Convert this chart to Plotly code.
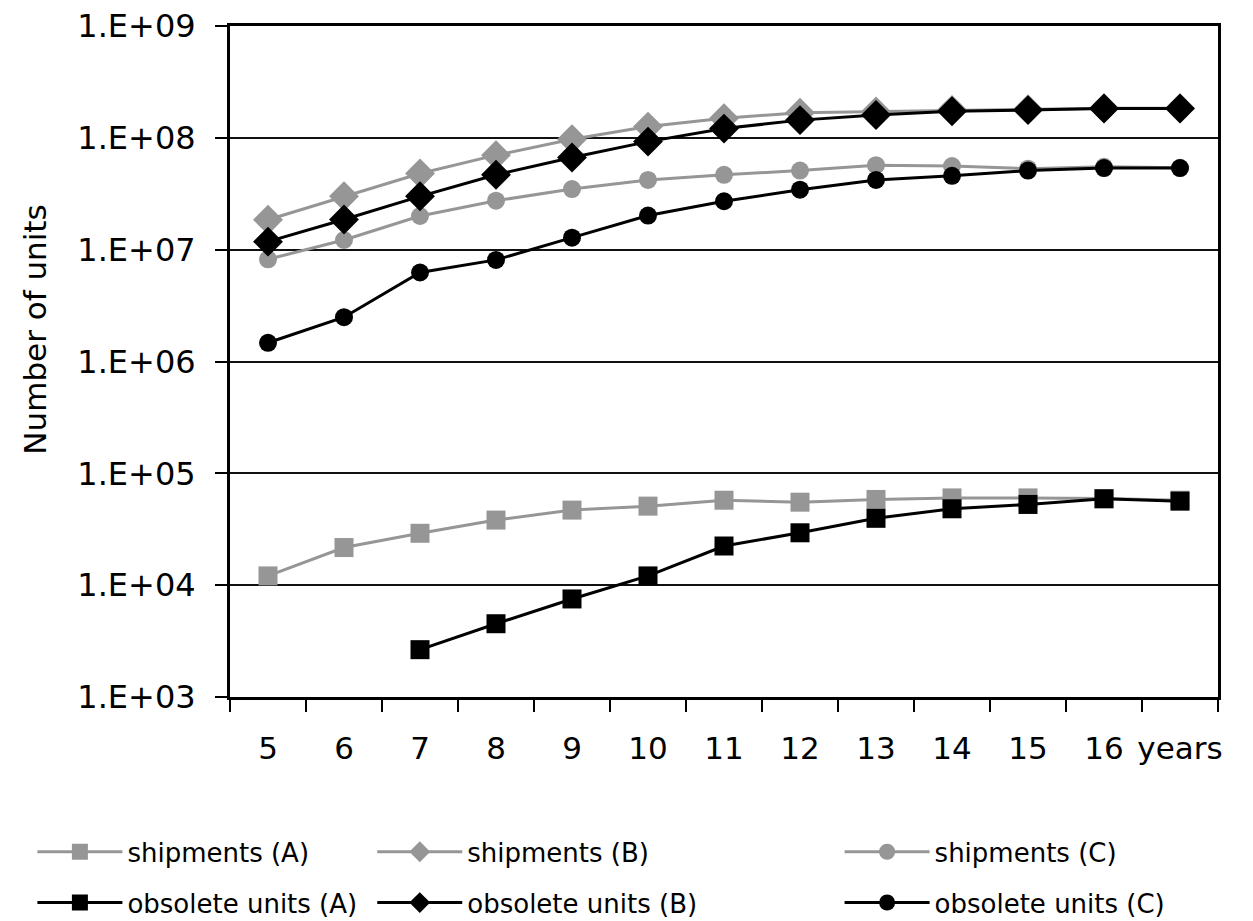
import plotly.graph_objects as go

categories = ["5", "6", "7", "8", "9", "10", "11", "12", "13", "14", "15", "16", "years"]

shipments_A = [1.21e4, 2.17e4, 2.91e4, 3.82e4, 4.69e4, 5.09e4, 5.75e4, 5.52e4, 5.84e4, 6.03e4, 6.03e4, 5.95e4, 5.75e4]
shipments_B = [1.85e7, 3.0e7, 4.8e7, 7.0e7, 9.7e7, 1.26e8, 1.5e8, 1.68e8, 1.72e8, 1.78e8, 1.8e8, 1.84e8, 1.84e8]
shipments_C = [8.2e6, 1.22e7, 2.0e7, 2.74e7, 3.48e7, 4.2e7, 4.67e7, 5.1e7, 5.7e7, 5.6e7, 5.3e7, 5.5e7, 5.4e7]

obsolete_A = [None, None, 2.65e3, 4.52e3, 7.53e3, 1.21e4, 2.24e4, 2.94e4, 3.96e4, 4.82e4, 5.27e4, 5.92e4, 5.64e4]
obsolete_B = [1.18e7, 1.86e7, 3.0e7, 4.67e7, 6.67e7, 9.25e7, 1.21e8, 1.44e8, 1.6e8, 1.73e8, 1.77e8, 1.83e8, 1.83e8]
obsolete_C = [1.47e6, 2.49e6, 6.25e6, 8.1e6, 1.28e7, 2.02e7, 2.71e7, 3.44e7, 4.2e7, 4.57e7, 5.1e7, 5.36e7, 5.36e7]

y_tickvals = [1e3, 1e4, 1e5, 1e6, 1e7, 1e8, 1e9]
y_ticktext = ["1.E+03", "1.E+04", "1.E+05", "1.E+06", "1.E+07", "1.E+08", "1.E+09"]

GRAY = "#969696"
BLACK = "#000000"
FONT = "DejaVu Sans"

series = [
    ("shipments (A)", shipments_A, GRAY, "square", 19, "legend"),
    ("shipments (B)", shipments_B, GRAY, "diamond", 23, "legend2"),
    ("shipments (C)", shipments_C, GRAY, "circle", 18, "legend3"),
    ("obsolete units (A)", obsolete_A, BLACK, "square", 19, "legend"),
    ("obsolete units (B)", obsolete_B, BLACK, "diamond", 23, "legend2"),
    ("obsolete units (C)", obsolete_C, BLACK, "circle", 18, "legend3"),
]

fig = go.Figure()
for i, (name, vals, color, sym, size, leg) in enumerate(series):
    fig.add_trace(go.Scatter(
        x=categories, y=vals, name=name, mode="lines+markers",
        line=dict(color=color, width=3),
        marker=dict(symbol=sym, size=size, color=color, line=dict(width=0)),
        legend=leg, legendgroup=name,
    ))

legend_common = dict(
    orientation="v", yref="container", yanchor="top", y=0.1015, xanchor="left",
    font=dict(family=FONT, size=26, color="#000000"),
    itemwidth=85, tracegroupgap=14, bgcolor="rgba(0,0,0,0)", borderwidth=0,
)

fig.update_layout(
    width=1245, height=913,
    margin=dict(l=222, r=35, t=18, b=224),
    paper_bgcolor="white", plot_bgcolor="white",
    font=dict(family=FONT, color="#000000"),
    showlegend=True,
    legend=dict(x=-0.200, **legend_common),
    legend2=dict(x=0.144, **legend_common),
    legend3=dict(x=0.617, **legend_common),
    xaxis=dict(
        type="category", range=[-0.5, 12.5], tickson="boundaries",
        showline=True, linecolor="#000000", linewidth=3, mirror=True,
        ticks="outside", ticklen=12, tickwidth=1.5, tickcolor="#000000",
        showgrid=False, tickfont=dict(family=FONT, size=31), tickangle=0,
        ticklabelstandoff=22, automargin=False,
    ),
    yaxis=dict(
        type="log", range=[3, 9], tickvals=y_tickvals, ticktext=y_ticktext,
        showline=True, linecolor="#000000", linewidth=3, mirror=True,
        ticks="outside", ticklen=12, tickwidth=1.5, tickcolor="#000000",
        showgrid=True, gridcolor="#111111", gridwidth=1.5,
        tickfont=dict(family=FONT, size=32), ticklabelstandoff=13,
        ticklabeloverflow="allow",
        zeroline=False, automargin=False,
    ),
    annotations=[dict(
        text="Number of units", textangle=-90, xref="paper", yref="paper",
        x=-0.197, y=0.548, xanchor="center", yanchor="middle", showarrow=False,
        font=dict(family=FONT, size=31, color="#000000"),
    )],
)

fig.write_html("out.html")
